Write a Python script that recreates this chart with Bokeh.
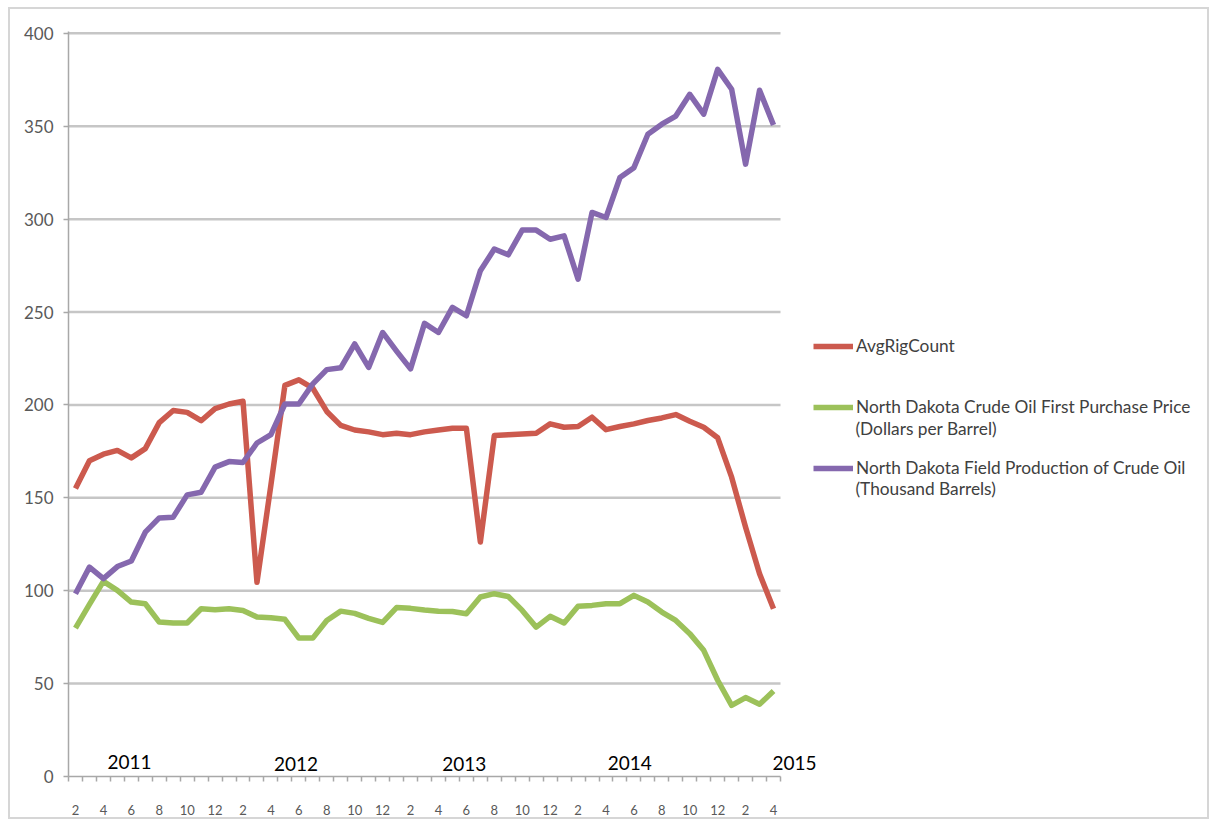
from bokeh.plotting import figure
from bokeh.models import Legend, LegendItem, FixedTicker, Range1d, ColumnDataSource
from bokeh.core.properties import value
from bokeh.embed import file_html
from bokeh.resources import INLINE

# Months Feb 2011 .. Apr 2015
months = [2, 3, 4, 5, 6, 7, 8, 9, 10, 11, 12, 1,
          2, 3, 4, 5, 6, 7, 8, 9, 10, 11, 12, 1,
          2, 3, 4, 5, 6, 7, 8, 9, 10, 11, 12, 1,
          2, 3, 4, 5, 6, 7, 8, 9, 10, 11, 12, 1,
          2, 3, 4]

rig_count = [155, 170, 173.5, 175.5, 171.5, 176.5, 190.5, 197, 196, 191.5, 198, 200.5,
             202, 104.5, 157, 210.5, 213.5, 209, 196.5, 189, 186.5, 185.5, 184, 184.8,
             184, 185.5, 186.5, 187.4, 187.4, 126.2, 183.5, 184, 184.4, 184.8, 189.8, 188,
             188.4, 193.4, 186.7, 188.4, 189.8, 191.6, 193, 194.8, 191.2, 188, 182.3, 161.1,
             134.2, 109.1, 90.3]

oil_price = [79.9, 92.6, 105, 100.2, 93.9, 93, 83.1, 82.6, 82.6, 90.3, 89.8, 90.3,
             89.4, 85.8, 85.5, 84.6, 74.5, 74.5, 84, 89, 87.8, 85.1, 82.9, 90.9,
             90.5, 89.6, 89, 88.8, 87.6, 96.6, 98.4, 96.9, 89.4, 80.4, 86.2, 82.6,
             91.6, 92.1, 93, 93, 97.5, 93.9, 88.5, 84, 76.9, 67.9, 51.8, 38.3,
             42.5, 38.9, 46]

production = [98.4, 112.7, 106.5, 113, 116, 131.5, 139.2, 139.6, 151.6, 153, 166.5, 169.5,
              169, 179.5, 184, 200.5, 200.5, 211.3, 219, 220, 232.8, 220.2, 239, 229,
              219.4, 243.9, 239, 252.5, 248, 272.2, 283.9, 280.8, 294.1, 294.1, 289.2, 291,
              267.7, 303.6, 300.9, 322.4, 327.7, 345.7, 351.1, 355.5, 367.2, 356.5, 380.6, 369.9,
              329.6, 369.4, 350.7]

y_ticks = [0, 50, 100, 150, 200, 250, 300, 350, 400]

years = ["2011", "2012", "2013", "2014", "2015"]
# label placement (month index, value) for the year annotations (text centre)
year_pos_x = [3.87, 15.8, 27.85, 39.7, 51.5]
year_pos_y = [7.7, 6.7, 6.7, 7.2, 7.3]

legend_names = ["AvgRigCount",
                "North Dakota Crude Oil First Purchase Price",
                "North Dakota Field Production of Crude Oil"]
legend_second_lines = ["(Dollars per Barrel)", "(Thousand Barrels)"]
# placement of the second legend lines (x in month-index units, y in value units)
second_pos_x = [55.87, 55.87]
second_pos_y = [187.3, 155.0]

n = len(months)
idx = list(range(n))
src = ColumnDataSource(dict(x=idx, rig=rig_count, price=oil_price, prod=production))

RED = "#cc5a4e"
GREEN = "#9cc15a"
PURPLE = "#8568ae"
GRID = "#c6c6c6"
AXIS = "#a8a8a8"
FONT = "Lato"

FRAME_W = 1137
PLOT_W = 712          # width the category axis itself occupies
x_lo, x_hi = -0.5, n - 0.5
x_end = x_lo + (x_hi - x_lo) * FRAME_W / PLOT_W

p = figure(frame_width=FRAME_W, frame_height=745,
           x_range=Range1d(x_lo, x_end), y_range=Range1d(0, 401),
           output_backend="svg", toolbar_location=None,
           min_border_left=58, min_border_top=22, min_border_bottom=40, min_border_right=2)
p.outline_line_color = None
p.background_fill_color = "white"
p.border_fill_color = "white"
p.styles = {"border": "2px solid #d6d6d6", "margin-left": "8px", "margin-top": "7px"}

# horizontal gridlines, only across the category span
grid_src = ColumnDataSource(dict(y=[t for t in y_ticks if t > 0]))
p.segment(x0=x_lo, x1=x_hi, y0="y", y1="y", source=grid_src, line_color=GRID, line_width=2.5)

r_rig = p.line("x", "rig", source=src, line_color=RED, line_width=5.5, line_join="round")
r_price = p.line("x", "price", source=src, line_color=GREEN, line_width=5.5, line_join="round")
r_prod = p.line("x", "prod", source=src, line_color=PURPLE, line_width=5.5, line_join="round")

# x axis
even = [i for i in idx if i % 2 == 0]
halves = [i - 0.5 for i in idx] + [idx[-1] + 0.5]
p.xaxis.bounds = (x_lo, x_hi)
p.xaxis.ticker = FixedTicker(ticks=even, minor_ticks=halves)
p.xaxis.major_label_overrides = {i: str(months[i]) for i in even}
p.xaxis.major_tick_line_color = None
p.xaxis.minor_tick_out = 5
p.xaxis.minor_tick_in = 0
p.xaxis.minor_tick_line_color = AXIS
p.xaxis.minor_tick_line_width = 1.5
p.xaxis.axis_line_color = AXIS
p.xaxis.axis_line_width = 1.5
p.xaxis.major_label_text_font = FONT
p.xaxis.major_label_text_font_size = "13px"
p.xaxis.major_label_text_color = "#595959"
p.xaxis.major_label_standoff = 22

# y axis
p.yaxis.ticker = FixedTicker(ticks=y_ticks)
p.yaxis.minor_tick_line_color = None
p.yaxis.major_tick_out = 5
p.yaxis.major_tick_in = 0
p.yaxis.major_tick_line_color = AXIS
p.yaxis.major_tick_line_width = 1.5
p.yaxis.axis_line_color = AXIS
p.yaxis.axis_line_width = 1.5
p.yaxis.major_label_text_font = FONT
p.yaxis.major_label_text_font_size = "17px"
p.yaxis.major_label_text_color = "#595959"
p.yaxis.major_label_standoff = 10

p.xgrid.grid_line_color = None
p.ygrid.grid_line_color = None

# year annotations
ysrc = ColumnDataSource(dict(x=year_pos_x, y=year_pos_y, t=years))
p.text("x", "y", text="t", source=ysrc, text_font=value(FONT), text_font_size="19px",
       text_color="black", text_align="center", text_baseline="middle")

# legend
legend = Legend(items=[LegendItem(label=legend_names[0], renderers=[r_rig]),
                       LegendItem(label=legend_names[1], renderers=[r_price]),
                       LegendItem(label=legend_names[2], renderers=[r_prod])],
                location=(745, 298), spacing=40)
legend.glyph_width = 40
legend.glyph_height = 20
legend.label_standoff = 3
legend.padding = 0
legend.margin = 0
legend.border_line_color = None
legend.background_fill_alpha = 0
legend.label_text_font = FONT
legend.label_text_font_size = "17.3px"
legend.label_text_color = "#404040"
p.add_layout(legend, "center")

lsrc = ColumnDataSource(dict(x=second_pos_x, y=second_pos_y, t=legend_second_lines))
p.text("x", "y", text="t", source=lsrc, text_font=value(FONT), text_font_size="17.3px",
       text_color="#404040", text_align="left", text_baseline="middle")

open("out.html", "w").write(file_html(p, INLINE))
